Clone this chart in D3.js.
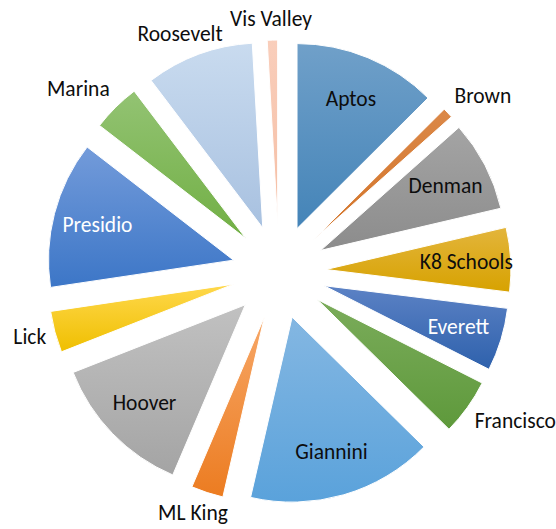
<!DOCTYPE html>
<html><head><meta charset="utf-8">
<script src="https://cdn.jsdelivr.net/npm/d3@7"></script>
<style>html,body{margin:0;padding:0;background:#fff;}svg{display:block;}</style>
</head><body>
<script>
const categories = ["Aptos","Brown","Denman","K8 Schools","Everett","Francisco","Giannini","ML King","Hoover","Lick","Presidio","Marina","Roosevelt","Vis Valley"];
const values = [12.5,0.9,7.9,5.6,5.5,4.9,16.2,2.8,12.6,3.6,12.8,4.2,9.4,0.9];
const colorsTop = ["#70a0c9","#db8848","#a4a4a4","#e3b53c","#5c82c5","#7bac5b","#84b7e2","#f7a767","#c1c1c1","#ffd84c","#739bda","#93c373","#c9dbef","#f9cebb"];
const colorsBottom = ["#4484b8","#d37327","#8c8c8c","#d7a200","#2e61ac","#5e993b","#5aa2db","#ec7c21","#a4a4a4","#efbf00","#3c76c7","#71af44","#a8c1e0","#f5bea4"];
const labelInside = [true,false,true,true,true,false,true,false,true,false,true,false,false,false];
const labelWhite = [false,false,false,false,true,false,false,false,false,false,true,false,false,false];

const W = 556, H = 529;
const cx = 279, cy = 272, R = 185, explode = 47;
const svg = d3.select("body").append("svg").attr("width", W).attr("height", H);
const defs = svg.append("defs");
categories.forEach((c, i) => {
  const g = defs.append("linearGradient").attr("id", "g" + i)
    .attr("x1", 0).attr("y1", 0).attr("x2", 0).attr("y2", 1);
  g.append("stop").attr("offset", "0%").attr("stop-color", colorsTop[i]);
  g.append("stop").attr("offset", "100%").attr("stop-color", colorsBottom[i]);
});
const data = categories.map((c, i) => ({name: c, value: values[i], i}));
const pie = d3.pie().sort(null).value(d => d.value).startAngle(0).endAngle(2 * Math.PI);
const arcs = pie(data);
const arc = d3.arc().innerRadius(0).outerRadius(R);
const root = svg.append("g").attr("transform", `translate(${cx},${cy})`);
const font = "Calibri, Carlito, Lato, sans-serif";
const fs = 21.5;

arcs.forEach(a => {
  const mid = (a.startAngle + a.endAngle) / 2;
  const dx = Math.sin(mid), dy = -Math.cos(mid);
  const ox = dx * explode, oy = dy * explode;
  const g = root.append("g").attr("transform", `translate(${ox},${oy})`);
  g.append("path").attr("d", arc(a)).attr("fill", `url(#g${a.data.i})`)
    .attr("stroke", "#fff").attr("stroke-width", 1);
  const t = g.append("text").text(a.data.name)
    .attr("font-family", font).attr("font-size", fs)
    .attr("fill", labelWhite[a.data.i] ? "#ffffff" : "#0d0d0d")
    .attr("text-anchor", "middle").attr("dominant-baseline", "central");
  if (labelInside[a.data.i]) {
    const r = R * 0.76;
    t.attr("x", dx * r).attr("y", dy * r);
  } else {
    const w = t.node().getComputedTextLength(), h = fs * 1.1;
    const r = R + 9;
    const m = Math.max(Math.abs(dx), Math.abs(dy));
    t.attr("x", dx * r + dx / m * w / 2).attr("y", dy * r + dy / m * h / 2);
  }
});
</script>
</body></html>
